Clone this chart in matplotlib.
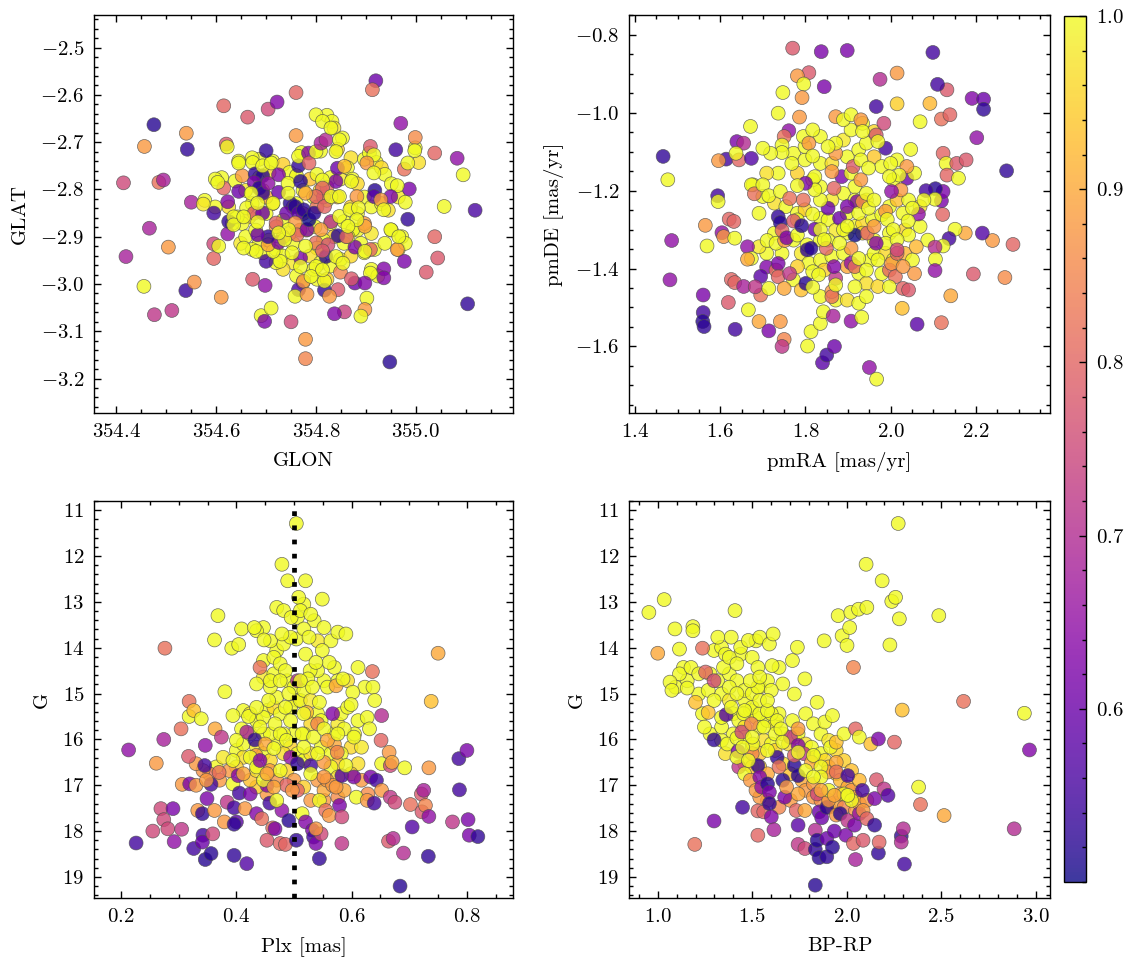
import matplotlib
matplotlib.use("Agg")
import matplotlib.pyplot as plt
from matplotlib.ticker import AutoMinorLocator

# style: serif CM font, inward ticks on all sides
plt.rcParams['font.family'] = 'serif'
plt.rcParams['font.serif'] = ['cmr10']
plt.rcParams['mathtext.fontset'] = 'cm'
plt.rcParams['axes.formatter.use_mathtext'] = True
plt.rcParams['font.size'] = 7.5
plt.rcParams['axes.linewidth'] = 0.5

# ---- sky positions ----
glon = [354.475, 354.414, 354.456, 354.540, 354.542, 354.485, 354.494, 354.550, 354.466, 354.419,
        354.504, 354.455, 354.476, 354.511, 354.539, 354.556, 354.610, 354.574, 354.595, 354.595,
        354.595, 354.615, 354.663, 354.704, 354.722, 354.760, 354.920, 354.913, 354.760, 354.620,
        354.673, 354.698, 354.700, 354.690, 354.697, 354.710, 354.750, 354.779, 354.779, 354.948,
        355.104, 355.119, 355.083, 355.095, 355.057, 355.038, 354.999, 354.998, 354.970, 354.960,
        355.038, 355.044, 355.021, 354.977, 354.984, 354.987, 354.977, 354.984, 354.963, 354.950,
        354.936, 354.936, 354.963, 354.950, 354.966, 354.909, 354.916, 354.902, 354.916, 354.918,
        354.916, 354.882, 354.930, 354.936, 354.909, 354.909, 354.878, 354.898, 354.902, 354.898,
        354.890, 354.857, 354.837, 354.844, 354.849, 354.871, 354.817, 354.827, 354.817, 354.765,
        354.758, 354.775, 354.782, 354.878, 354.898, 354.874, 354.898, 354.864, 354.844, 354.861,
        354.820, 354.840, 354.854, 354.800, 354.790, 354.813, 354.769, 354.769, 354.752, 354.728,
        354.714, 354.680, 354.655, 354.704, 354.725, 354.704, 354.683, 354.623, 354.605, 354.625,
        354.635, 354.635, 354.623, 354.615, 354.603, 354.645, 354.652, 354.645, 354.622, 354.661,
        354.676, 354.693, 354.683, 354.673, 354.678, 354.693, 354.676, 354.686, 354.693, 354.704,
        354.693, 354.710, 354.700, 354.725, 354.725, 354.714, 354.720, 354.744, 354.748, 354.741,
        354.758, 354.765, 354.775, 354.758, 354.762, 354.782, 354.786, 354.796, 354.765, 354.769,
        354.765, 354.785, 354.786, 354.800, 354.810, 354.820, 354.800, 354.813, 354.830, 354.847,
        354.840, 354.843, 354.857, 354.840, 354.871, 354.813, 354.813, 354.800, 354.817, 354.830,
        354.810, 354.847, 354.868, 354.885, 354.882, 354.864, 354.800, 354.824, 354.813, 354.779,
        354.737, 354.745, 354.725, 354.670, 354.655, 354.683, 354.744, 354.779, 354.830, 354.847]
glat = [-2.663, -2.786, -2.709, -2.681, -2.715, -2.785, -2.780, -2.827, -2.882, -2.942,
        -2.922, -3.005, -3.065, -3.056, -3.014, -2.996, -3.028, -2.831, -2.850, -2.915,
        -2.946, -2.623, -2.647, -2.630, -2.615, -2.595, -2.570, -2.589, -2.686, -2.704,
        -2.990, -3.003, -2.952, -3.067, -3.079, -3.051, -3.080, -3.117, -3.158, -3.165,
        -3.042, -2.844, -2.734, -2.769, -2.836, -2.723, -2.690, -2.718, -2.660, -2.716,
        -2.900, -2.945, -2.975, -2.952, -2.863, -2.799, -2.757, -2.744, -2.792, -2.815,
        -2.968, -2.987, -2.927, -2.885, -2.900, -2.709, -2.727, -2.744, -2.765, -2.802,
        -2.815, -2.815, -2.822, -2.843, -2.927, -2.977, -2.998, -2.998, -3.030, -3.054,
        -3.068, -3.059, -3.063, -3.012, -2.975, -2.989, -3.013, -3.026, -2.994, -3.012,
        -3.026, -2.994, -3.022, -2.922, -2.931, -2.885, -2.878, -2.900, -2.898, -2.900,
        -2.942, -2.942, -2.956, -2.963, -2.984, -2.970, -2.945, -2.963, -2.934, -2.952,
        -2.931, -2.931, -2.924, -2.917, -2.912, -2.900, -2.896, -2.894, -2.920, -2.868,
        -2.858, -2.875, -2.826, -2.797, -2.785, -2.804, -2.771, -2.744, -2.710, -2.839,
        -2.850, -2.850, -2.869, -2.743, -2.767, -2.771, -2.785, -2.797, -2.808, -2.787,
        -2.750, -2.744, -2.718, -2.769, -2.806, -2.829, -2.871, -2.787, -2.829, -2.850,
        -2.836, -2.850, -2.843, -2.871, -2.896, -2.885, -2.864, -2.850, -2.750, -2.783,
        -2.730, -2.723, -2.744, -2.720, -2.702, -2.695, -2.642, -2.656, -2.670, -2.695,
        -2.720, -2.755, -2.751, -2.783, -2.783, -2.780, -2.797, -2.815, -2.836, -2.868,
        -2.885, -2.857, -2.843, -2.839, -2.864, -2.878, -2.913, -2.917, -2.930, -2.920,
        -2.906, -2.885, -2.892, -2.808, -2.858, -2.829, -2.808, -2.808, -2.815, -2.815]
p_sky = [0.52, 0.75, 0.88, 0.88, 0.53, 0.82, 0.68, 0.68, 0.68, 0.68,
         0.88, 1.00, 0.72, 0.72, 0.54, 0.87, 0.88, 0.98, 0.55, 0.75,
         0.80, 0.80, 0.78, 0.75, 0.63, 0.80, 0.60, 0.82, 0.88, 0.78,
         0.78, 0.65, 0.55, 1.00, 0.62, 1.00, 0.75, 0.88, 0.85, 0.52,
         0.53, 0.56, 0.65, 1.00, 1.00, 0.80, 0.86, 1.00, 0.65, 0.55,
         0.80, 0.78, 0.78, 0.62, 0.53, 0.62, 0.82, 1.00, 1.00, 0.62,
         0.63, 0.63, 0.88, 1.00, 1.00, 0.78, 1.00, 0.88, 1.00, 0.52,
         0.58, 0.88, 0.88, 1.00, 0.80, 1.00, 0.60, 0.63, 1.00, 0.88,
         1.00, 0.74, 0.63, 0.78, 0.85, 0.78, 0.53, 0.88, 1.00, 0.56,
         1.00, 0.87, 0.88, 0.62, 1.00, 1.00, 0.90, 1.00, 0.52, 0.80,
         0.52, 1.00, 1.00, 1.00, 1.00, 1.00, 0.62, 1.00, 1.00, 1.00,
         1.00, 1.00, 1.00, 0.90, 0.62, 0.53, 0.60, 0.65, 1.00, 0.53,
         1.00, 1.00, 0.63, 0.80, 1.00, 0.60, 0.88, 1.00, 1.00, 1.00,
         0.78, 0.60, 1.00, 1.00, 0.53, 0.52, 0.62, 0.52, 0.53, 0.65,
         1.00, 1.00, 0.53, 0.63, 0.60, 1.00, 0.80, 1.00, 0.52, 0.60,
         0.52, 0.58, 0.52, 0.88, 0.82, 0.62, 0.50, 0.52, 0.53, 0.52,
         1.00, 0.63, 0.80, 1.00, 0.68, 0.70, 1.00, 1.00, 1.00, 1.00,
         1.00, 0.60, 0.93, 0.62, 1.00, 1.00, 0.80, 0.80, 0.80, 0.70,
         0.88, 1.00, 1.00, 1.00, 1.00, 1.00, 0.82, 0.76, 0.78, 1.00,
         1.00, 1.00, 1.00, 1.00, 1.00, 1.00, 1.00, 0.90, 1.00, 1.00]
# crowded cluster core (drawn underneath)
glon_core = [354.822, 354.832, 354.836, 354.853, 354.843, 354.771, 354.809, 354.870, 354.897, 354.907,
             354.921, 354.931, 354.938, 354.951, 354.965, 354.979, 354.999, 355.006, 354.686, 354.713,
             354.734, 354.747, 354.761, 354.788, 354.802, 354.829, 354.849, 354.863, 354.873, 354.883,
             354.897, 354.911, 354.931, 354.945, 354.883, 354.870, 354.856, 354.822, 354.843, 354.829,
             354.883, 354.911, 354.890, 354.856, 354.836, 354.815, 354.802, 354.788, 354.809, 354.829,
             354.849, 354.870, 354.897, 354.917, 354.611, 354.638, 354.659, 354.672, 354.666, 354.652,
             354.632, 354.642, 354.625, 354.598, 354.577, 354.598, 354.686, 354.706, 354.720, 354.734,
             354.754, 354.754, 354.734, 354.747, 354.781, 354.798, 354.693, 354.713, 354.700, 354.761,
             354.774, 354.795, 354.808, 354.938, 354.951, 354.972, 354.965, 354.979, 354.911, 354.924,
             354.802, 354.822, 354.761, 354.774, 354.795, 354.734, 354.720, 354.693, 354.672, 354.649,
             354.659, 354.679, 354.686, 354.706, 354.645, 354.672,
             354.754, 354.774, 354.802, 354.815, 354.734, 354.768, 354.822, 354.897, 354.700, 354.720]
glat_core = [-2.643, -2.656, -2.670, -2.691, -2.715, -2.722, -2.719, -2.733, -2.736, -2.723,
             -2.743, -2.754, -2.768, -2.788, -2.816, -2.827, -2.712, -2.743, -2.736, -2.740,
             -2.747, -2.764, -2.771, -2.778, -2.768, -2.775, -2.778, -2.754, -2.778, -2.788,
             -2.816, -2.837, -2.830, -2.844, -2.851, -2.837, -2.868, -2.823, -2.816, -2.872,
             -2.886, -2.893, -2.914, -2.914, -2.900, -2.907, -2.924, -2.941, -2.955, -2.962,
             -2.948, -2.941, -2.934, -2.927, -2.775, -2.782, -2.802, -2.830, -2.858, -2.872,
             -2.872, -2.858, -2.837, -2.778, -2.823, -2.837, -2.914, -2.907, -2.927, -2.941,
             -2.955, -2.914, -2.865, -2.893, -2.886, -2.879, -2.802, -2.830, -2.851, -2.830,
             -2.802, -2.816, -2.802, -2.914, -2.886, -2.900, -2.927, -2.914, -2.969, -2.983,
             -2.990, -2.990, -2.983, -2.997, -2.969, -2.969, -2.955, -2.934, -2.927, -2.914,
             -2.900, -2.886, -2.775, -2.764, -2.740, -2.733,
             -2.837, -2.851, -2.837, -2.816, -2.900, -2.886, -2.795, -2.872, -2.816, -2.879]
p_sky_core = [1.00, 1.00, 0.98, 1.00, 0.95, 1.00, 1.00, 0.97, 1.00, 1.00,
              1.00, 0.96, 1.00, 1.00, 0.98, 1.00, 1.00, 0.97, 1.00, 1.00,
              0.95, 1.00, 1.00, 0.93, 1.00, 1.00, 0.98, 1.00, 1.00, 0.96,
              1.00, 1.00, 1.00, 0.97, 1.00, 0.95, 1.00, 1.00, 0.92, 1.00,
              1.00, 0.98, 1.00, 1.00, 0.95, 1.00, 1.00, 0.97, 1.00, 1.00,
              1.00, 0.96, 1.00, 1.00, 1.00, 1.00, 0.98, 1.00, 0.95, 1.00,
              1.00, 1.00, 0.97, 1.00, 1.00, 1.00, 1.00, 0.94, 1.00, 1.00,
              0.98, 1.00, 1.00, 0.93, 1.00, 1.00, 1.00, 0.97, 1.00, 1.00,
              1.00, 1.00, 0.96, 1.00, 1.00, 1.00, 0.98, 1.00, 1.00, 1.00,
              1.00, 0.95, 1.00, 1.00, 1.00, 0.97, 1.00, 1.00, 1.00, 0.98,
              1.00, 1.00, 1.00, 0.96, 1.00, 1.00,
              0.85, 0.80, 0.83, 0.78, 0.85, 0.82, 0.80, 0.88, 0.90, 0.88]

# ---- proper motions ----
pmra = [1.466, 1.477, 1.486, 1.482, 1.560, 1.560, 1.559, 1.562, 1.635, 1.619,
        1.626, 1.634, 1.655, 1.666, 1.691, 1.714, 1.750, 1.745, 1.741, 1.805,
        1.813, 1.835, 1.842, 1.840, 1.850, 1.868, 1.865, 1.907, 1.932, 1.950,
        1.967, 2.027, 2.062, 2.119, 2.141, 2.194, 2.268, 2.287, 2.239, 2.175,
        2.151, 2.215, 2.137, 2.123, 2.104, 2.105, 2.104, 2.122, 2.119, 2.123,
        2.105, 2.083, 2.104, 2.078, 2.065, 2.051, 2.041, 2.042, 2.038, 2.056,
        2.038, 2.020, 2.000, 2.024, 2.002, 1.997, 2.123, 2.130, 2.132, 2.159,
        2.155, 2.177, 2.202, 2.272, 2.191, 2.218, 2.218, 2.132, 2.110, 2.099,
        2.092, 2.119, 2.139, 2.069, 2.047, 2.015, 2.015, 1.975, 1.966, 1.984,
        1.966, 1.988, 1.970, 1.898, 1.837, 1.844, 1.770, 1.808, 1.781, 1.796,
        1.792, 1.747, 1.786, 1.736, 1.671, 1.761, 1.750, 1.745, 1.795, 1.808,
        1.817, 1.817, 1.822, 1.768, 1.745, 1.718, 1.700, 1.639, 1.655, 1.614,
        1.644, 1.596, 1.637, 1.673, 1.594, 1.595, 1.565, 1.569, 1.604, 1.608,
        1.621, 1.632, 1.634, 1.673, 1.680, 1.700, 1.714, 1.741, 1.763, 1.664,
        1.673, 1.664, 1.710, 1.731, 1.751, 1.709, 1.695, 1.695, 1.682, 1.714,
        1.731, 1.736, 1.736, 1.750, 1.763, 1.736, 1.741, 1.745, 1.772, 1.756,
        1.781, 1.791, 1.804, 1.804, 1.813, 1.822, 1.801, 1.817, 1.831, 1.817,
        1.849, 1.862, 1.862, 1.871, 1.867, 1.871, 1.853, 1.880, 1.867, 1.885,
        1.862, 1.871, 1.871, 1.889, 1.907, 1.930, 1.934, 1.871, 1.853, 1.907,
        1.912, 1.930, 1.930, 1.948, 1.921, 1.898, 1.925, 1.934, 1.948, 1.916,
        1.945, 1.907, 1.907, 1.916, 1.916, 1.925, 1.943, 1.970, 1.979, 1.997,
        2.002, 2.015, 2.011, 1.997, 2.029, 2.042, 2.056, 2.029, 1.961, 1.966,
        1.988, 1.992, 2.006, 2.015, 2.015, 1.817, 1.835, 1.822, 1.800, 1.795,
        1.781, 1.889, 1.880, 1.898, 1.835, 1.844, 1.943, 1.961]
pmde = [-1.112, -1.172, -1.328, -1.429, -1.468, -1.513, -1.536, -1.549, -1.556, -1.487,
        -1.428, -1.436, -1.446, -1.506, -1.536, -1.560, -1.582, -1.600, -1.536, -1.599,
        -1.562, -1.541, -1.511, -1.642, -1.622, -1.600, -1.522, -1.535, -1.525, -1.654,
        -1.684, -1.502, -1.543, -1.539, -1.470, -1.414, -1.423, -1.338, -1.328, -1.309,
        -1.299, -1.309, -1.323, -1.342, -1.345, -1.376, -1.405, -1.261, -1.226, -1.202,
        -1.195, -1.200, -1.222, -1.224, -1.260, -1.245, -1.278, -1.314, -1.168, -1.155,
        -1.138, -1.160, -1.130, -1.198, -1.202, -1.164, -1.104, -1.130, -1.160, -1.168,
        -1.130, -1.121, -1.064, -1.149, -0.963, -0.965, -0.991, -0.941, -0.927, -0.845,
        -0.976, -1.016, -1.005, -1.023, -1.094, -0.977, -0.898, -0.914, -0.984, -1.027,
        -1.057, -1.091, -1.074, -0.840, -0.843, -0.933, -0.834, -0.897, -0.905, -0.926,
        -0.961, -0.948, -1.011, -1.001, -1.035, -1.046, -1.061, -1.083, -1.061, -1.078,
        -1.044, -1.111, -1.164, -1.130, -1.102, -1.104, -1.091, -1.074, -1.078, -1.119,
        -1.121, -1.123, -1.104, -1.117, -1.213, -1.228, -1.289, -1.342, -1.308, -1.318,
        -1.273, -1.279, -1.322, -1.185, -1.208, -1.185, -1.213, -1.202, -1.220, -1.344,
        -1.374, -1.376, -1.328, -1.335, -1.328, -1.396, -1.420, -1.468, -1.447, -1.451,
        -1.404, -1.387, -1.421, -1.451, -1.413, -1.267, -1.282, -1.302, -1.278, -1.321,
        -1.314, -1.290, -1.339, -1.352, -1.348, -1.299, -1.438, -1.408, -1.416, -1.448,
        -1.348, -1.459, -1.472, -1.425, -1.395, -1.442, -1.245, -1.271, -1.194, -1.164,
        -1.151, -1.104, -1.010, -1.018, -1.005, -1.018, -1.048, -1.078, -1.087, -1.155,
        -1.138, -1.172, -1.121, -1.142, -1.228, -1.241, -1.258, -1.228, -1.245, -1.314,
        -1.309, -1.348, -1.386, -1.395, -1.447, -1.374, -1.404, -1.378, -1.413, -1.404,
        -1.387, -1.361, -1.421, -1.447, -1.451, -1.455, -1.413, -1.395, -1.292, -1.335,
        -1.253, -1.274, -1.300, -1.326, -1.352, -1.260, -1.224, -1.198, -1.181, -1.224,
        -1.187, -1.300, -1.335, -1.291, -1.300, -1.326, -1.207, -1.224]
p_pm = [0.53, 1.00, 0.65, 0.65, 0.62, 0.55, 0.52, 0.53, 0.55, 0.78,
        0.80, 0.80, 0.68, 1.00, 0.90, 0.62, 0.85, 0.72, 0.88, 1.00,
        1.00, 1.00, 1.00, 0.58, 0.55, 0.60, 0.68, 0.65, 1.00, 0.65,
        1.00, 0.93, 0.58, 0.82, 0.90, 0.78, 0.86, 0.80, 0.88, 0.90,
        1.00, 0.57, 0.55, 1.00, 0.70, 1.00, 0.65, 0.80, 0.62, 0.62,
        0.52, 0.55, 1.00, 1.00, 0.65, 1.00, 1.00, 1.00, 0.60, 1.00,
        0.88, 1.00, 1.00, 0.88, 0.65, 1.00, 0.80, 1.00, 0.80, 1.00,
        0.78, 0.78, 0.65, 0.53, 0.63, 0.60, 0.53, 0.78, 0.55, 0.55,
        0.92, 0.82, 0.80, 1.00, 1.00, 0.95, 0.88, 0.70, 0.55, 0.75,
        0.78, 0.55, 1.00, 0.62, 0.62, 0.62, 0.78, 0.78, 0.88, 1.00,
        0.88, 1.00, 0.88, 1.00, 1.00, 0.65, 0.82, 1.00, 1.00, 0.88,
        1.00, 1.00, 1.00, 1.00, 1.00, 1.00, 1.00, 0.62, 0.70, 0.55,
        0.80, 0.88, 1.00, 0.57, 0.55, 1.00, 0.88, 1.00, 0.65, 0.88,
        0.80, 0.80, 1.00, 1.00, 0.82, 1.00, 1.00, 1.00, 0.82, 0.65,
        1.00, 0.90, 1.00, 1.00, 0.88, 0.63, 0.58, 0.82, 0.72, 1.00,
        0.82, 0.62, 0.80, 0.90, 0.72, 0.53, 0.52, 0.80, 0.78, 0.62,
        1.00, 0.52, 1.00, 0.53, 0.52, 0.60, 0.52, 1.00, 1.00, 1.00,
        0.80, 0.88, 0.82, 0.72, 0.63, 1.00, 0.60, 0.60, 0.80, 0.62,
        0.88, 0.88, 0.88, 1.00, 1.00, 0.88, 1.00, 1.00, 1.00, 1.00,
        0.78, 0.88, 1.00, 1.00, 0.62, 0.62, 1.00, 0.88, 1.00, 0.50,
        0.80, 0.88, 0.65, 0.82, 1.00, 1.00, 1.00, 1.00, 1.00, 0.80,
        0.88, 0.80, 0.82, 1.00, 0.80, 0.78, 0.88, 0.88, 0.88, 0.63,
        0.88, 1.00, 1.00, 1.00, 0.75, 1.00, 1.00, 1.00, 0.62, 0.82,
        1.00, 1.00, 1.00, 1.00, 1.00, 1.00, 1.00, 1.00]
pmra_core = [1.677, 1.700, 1.727, 1.754, 1.781, 1.799, 1.835, 1.853, 1.871, 1.898,
             1.916, 1.934, 1.957, 1.979, 1.997, 2.015, 2.029, 2.042, 2.069, 1.781,
             1.772, 1.790, 1.808, 1.835, 1.844, 1.862, 1.889, 1.898, 1.925, 1.943,
             1.952, 1.961, 1.988, 2.006, 2.033, 2.051, 1.709, 1.691, 1.727, 1.745,
             1.781, 1.772, 1.790, 1.835, 1.871, 1.898, 1.925, 1.943, 1.970, 1.916,
             1.889, 1.862, 1.835, 1.817, 1.781, 1.772, 1.799, 1.835, 1.862, 1.898,
             1.925, 1.943, 1.961, 1.979, 2.006, 2.015, 1.889, 1.907, 1.934, 1.961,
             1.835, 1.799, 1.736, 1.709, 1.691, 1.997, 2.033, 2.069, 2.087, 2.060,
             1.835, 1.916, 1.943, 1.898, 1.853, 1.934, 1.961, 1.988]
pmde_core = [-1.185, -1.215, -1.232, -1.241, -1.258, -1.249, -1.271, -1.275, -1.301, -1.309,
             -1.292, -1.284, -1.275, -1.262, -1.241, -1.224, -1.258, -1.224, -1.241, -1.275,
             -1.327, -1.361, -1.386, -1.378, -1.404, -1.369, -1.361, -1.395, -1.412, -1.438,
             -1.378, -1.361, -1.361, -1.378, -1.361, -1.378, -1.361, -1.344, -1.309, -1.361,
             -1.395, -1.429, -1.455, -1.472, -1.481, -1.481, -1.489, -1.472, -1.446, -1.190,
             -1.207, -1.224, -1.190, -1.172, -1.155, -1.104, -1.121, -1.130, -1.130, -1.113,
             -1.095, -1.078, -1.113, -1.138, -1.172, -1.121, -1.070, -1.044, -1.027, -1.048,
             -1.061, -1.087, -1.155, -1.155, -1.258, -1.309, -1.301, -1.292, -1.327, -1.344,
             -1.327, -1.224, -1.224, -1.258, -1.327, -1.309, -1.327, -1.335]
p_pm_core = [1.00, 1.00, 0.97, 1.00, 1.00, 0.95, 1.00, 1.00, 0.98, 1.00,
             1.00, 0.96, 1.00, 1.00, 1.00, 0.93, 1.00, 1.00, 0.97, 1.00,
             1.00, 0.98, 1.00, 1.00, 0.95, 1.00, 1.00, 0.90, 1.00, 0.97,
             1.00, 1.00, 0.96, 1.00, 0.92, 1.00, 1.00, 0.98, 1.00, 1.00,
             0.95, 1.00, 0.93, 1.00, 1.00, 0.97, 1.00, 1.00, 0.96, 1.00,
             1.00, 0.98, 1.00, 1.00, 0.95, 1.00, 1.00, 1.00, 0.97, 1.00,
             1.00, 1.00, 0.94, 1.00, 1.00, 1.00, 0.98, 1.00, 1.00, 0.96,
             1.00, 1.00, 1.00, 0.97, 1.00, 1.00, 0.95, 1.00, 1.00, 0.92,
             1.00, 1.00, 0.98, 1.00, 1.00, 0.96, 1.00, 1.00]

# ---- parallax vs G ----
plx = [0.213, 0.226, 0.261, 0.255, 0.269, 0.274, 0.281, 0.276, 0.274, 0.290,
       0.292, 0.304, 0.305, 0.306, 0.318, 0.317, 0.319, 0.318, 0.326, 0.339,
       0.326, 0.330, 0.333, 0.341, 0.342, 0.341, 0.345, 0.346, 0.349, 0.346,
       0.356, 0.356, 0.359, 0.348, 0.362, 0.362, 0.368, 0.363, 0.370, 0.374,
       0.379, 0.380, 0.384, 0.392, 0.404, 0.400, 0.396, 0.396, 0.396, 0.394,
       0.394, 0.394, 0.403, 0.405, 0.409, 0.409, 0.412, 0.415, 0.418, 0.418,
       0.424, 0.421, 0.431, 0.432, 0.435, 0.434, 0.441, 0.448, 0.447, 0.450,
       0.444, 0.453, 0.458, 0.458, 0.459, 0.456, 0.453, 0.463, 0.467, 0.470,
       0.479, 0.482, 0.479, 0.476, 0.485, 0.487, 0.491, 0.489, 0.494, 0.495,
       0.504, 0.504, 0.506, 0.506, 0.504, 0.506, 0.508, 0.511, 0.517, 0.514,
       0.520, 0.522, 0.526, 0.529, 0.529, 0.528, 0.524, 0.532, 0.534, 0.538,
       0.544, 0.547, 0.538, 0.541, 0.549, 0.552, 0.549, 0.544, 0.552, 0.555,
       0.561, 0.567, 0.558, 0.561, 0.557, 0.567, 0.573, 0.570, 0.575, 0.576,
       0.579, 0.583, 0.583, 0.583, 0.573, 0.590, 0.587, 0.590, 0.602, 0.599,
       0.604, 0.604, 0.608, 0.627, 0.627, 0.631, 0.633, 0.636, 0.637, 0.640,
       0.643, 0.639, 0.652, 0.652, 0.651, 0.652, 0.667, 0.665, 0.670, 0.667,
       0.675, 0.664, 0.672, 0.690, 0.684, 0.692, 0.702, 0.705, 0.721, 0.725,
       0.722, 0.728, 0.734, 0.733, 0.734, 0.738, 0.750, 0.775, 0.786, 0.787,
       0.800, 0.802, 0.804, 0.819, 0.585, 0.465, 0.476, 0.485, 0.476, 0.491,
       0.485, 0.494, 0.467, 0.476, 0.487, 0.465, 0.476, 0.435, 0.441, 0.424,
       0.435, 0.447, 0.465, 0.470, 0.517, 0.514, 0.517, 0.534, 0.541, 0.529,
       0.520, 0.538, 0.532, 0.544, 0.552, 0.558, 0.576, 0.511, 0.494, 0.479,
       0.497, 0.552, 0.441, 0.453, 0.400, 0.435]
g_plx = [16.23, 18.26, 16.52, 18.00, 17.51, 17.75, 17.95, 14.01, 16.00, 17.51,
         18.23, 15.77, 17.96, 16.98, 15.17, 16.37, 16.97, 15.50, 15.37, 15.55,
         18.38, 17.00, 17.55, 17.62, 18.09, 18.24, 16.57, 16.13, 17.29, 18.62,
         18.49, 16.98, 18.06, 16.89, 17.55, 13.83, 13.30, 15.77, 16.72, 15.95,
         17.80, 14.96, 17.37, 14.01, 13.93, 17.80, 17.85, 17.49, 18.53, 15.48,
         16.46, 16.97, 16.79, 17.17, 15.77, 13.59, 16.75, 17.51, 18.71, 15.84,
         17.19, 15.50, 13.56, 16.01, 17.62, 16.35, 14.43, 13.83, 15.52, 16.10,
         17.73, 17.00, 17.39, 16.68, 14.72, 15.15, 18.20, 17.93, 17.95, 13.12,
         12.18, 13.19, 17.55, 18.27, 18.29, 17.00, 17.77, 12.54, 16.39, 13.34,
         11.29, 13.81, 14.72, 16.53, 18.20, 17.11, 12.90, 13.19, 13.59, 17.62,
         17.80, 15.41, 13.77, 13.27, 16.57, 14.50, 14.68, 17.98, 18.13, 18.27,
         18.60, 18.06, 17.95, 15.66, 12.94, 13.56, 14.06, 17.33, 16.50, 17.55,
         17.66, 15.44, 14.86, 14.32, 16.89, 17.00, 17.04, 16.10, 16.28, 13.66,
         17.44, 17.69, 18.27, 16.79, 14.83, 13.70, 15.77, 16.57, 14.97, 15.24,
         15.95, 16.82, 17.26, 17.33, 15.52, 15.77, 16.82, 14.52, 14.86, 15.15,
         16.89, 17.39, 17.11, 15.48, 16.02, 16.53, 16.57, 16.28, 16.50, 17.26,
         17.37, 18.22, 18.16, 18.48, 19.20, 16.62, 17.42, 17.91, 17.19, 17.11,
         17.58, 17.44, 17.68, 18.55, 16.62, 15.17, 14.12, 17.80, 16.42, 17.10,
         16.24, 17.75, 18.09, 18.12, 14.68, 14.21, 14.35, 14.50, 14.72, 15.00,
         15.30, 15.59, 15.66, 15.88, 16.02, 16.20, 16.68, 15.30, 15.73, 16.39,
         16.60, 16.89, 17.04, 17.33, 15.44, 15.88, 16.17, 15.95, 16.31, 16.75,
         14.14, 14.32, 14.86, 15.19, 15.77, 16.02, 15.88, 14.72, 13.77, 13.70,
         17.11, 16.82, 16.46, 16.75, 16.02, 14.79]
p_plx = [0.65, 0.55, 0.88, 0.75, 0.75, 0.75, 0.75, 0.82, 0.68, 0.62,
         0.65, 0.82, 0.72, 0.88, 0.82, 0.78, 0.62, 1.00, 0.93, 1.00,
         0.55, 0.88, 0.88, 0.53, 0.55, 0.60, 0.55, 0.65, 0.62, 0.52,
         0.52, 0.55, 0.75, 0.88, 0.88, 1.00, 1.00, 0.90, 0.82, 0.72,
         0.88, 1.00, 0.72, 1.00, 1.00, 0.58, 0.53, 0.55, 0.53, 1.00,
         1.00, 1.00, 0.63, 0.55, 1.00, 1.00, 0.90, 0.88, 0.57, 0.68,
         0.62, 1.00, 1.00, 0.53, 0.63, 0.88, 0.82, 1.00, 1.00, 0.90,
         0.82, 0.63, 0.55, 0.88, 1.00, 1.00, 0.78, 0.82, 0.62, 1.00,
         1.00, 1.00, 0.65, 0.80, 0.80, 0.80, 0.52, 1.00, 0.65, 1.00,
         1.00, 1.00, 0.70, 0.53, 0.53, 0.80, 1.00, 1.00, 1.00, 1.00,
         0.63, 0.92, 1.00, 1.00, 0.55, 1.00, 1.00, 0.62, 0.55, 0.62,
         0.53, 0.75, 0.88, 0.85, 1.00, 1.00, 1.00, 1.00, 0.88, 0.82,
         0.88, 0.63, 1.00, 1.00, 0.88, 0.88, 0.88, 0.90, 0.85, 1.00,
         0.62, 0.75, 0.72, 0.57, 0.90, 1.00, 1.00, 1.00, 1.00, 1.00,
         1.00, 0.62, 1.00, 0.88, 1.00, 1.00, 0.62, 0.82, 1.00, 1.00,
         0.55, 0.55, 0.88, 0.70, 0.80, 1.00, 0.75, 0.88, 0.90, 0.72,
         0.75, 0.78, 0.70, 0.70, 0.52, 1.00, 0.82, 0.57, 0.78, 0.68,
         0.78, 0.85, 0.65, 0.53, 0.88, 0.93, 0.90, 0.72, 0.55, 0.55,
         0.62, 0.62, 0.62, 0.53, 1.00, 1.00, 1.00, 1.00, 1.00, 1.00,
         1.00, 1.00, 1.00, 1.00, 1.00, 1.00, 1.00, 1.00, 1.00, 1.00,
         1.00, 1.00, 0.90, 1.00, 1.00, 1.00, 1.00, 1.00, 1.00, 1.00,
         1.00, 1.00, 1.00, 1.00, 1.00, 0.90, 1.00, 1.00, 1.00, 1.00,
         0.88, 0.88, 0.63, 0.90, 1.00, 1.00]
plx_core = [0.412, 0.424, 0.435, 0.453, 0.465, 0.476, 0.470, 0.459, 0.447, 0.465,
            0.488, 0.500, 0.506, 0.494, 0.511, 0.517, 0.529, 0.541, 0.547, 0.529,
            0.517, 0.500, 0.494, 0.506, 0.517, 0.529, 0.547, 0.564, 0.570, 0.576,
            0.582, 0.593, 0.611, 0.599, 0.582, 0.576, 0.564, 0.611, 0.599, 0.552,
            0.576, 0.587, 0.400, 0.412, 0.400, 0.388, 0.412, 0.424, 0.435, 0.447,
            0.459, 0.470, 0.482, 0.447, 0.459, 0.482, 0.488, 0.500, 0.470, 0.453,
            0.435, 0.424, 0.435, 0.365, 0.377, 0.371, 0.353, 0.342, 0.330, 0.541,
            0.517, 0.529, 0.552, 0.576, 0.617, 0.628, 0.447, 0.470, 0.482, 0.459,
            0.447, 0.435, 0.506, 0.517, 0.520, 0.535, 0.541, 0.564, 0.570, 0.576,
            0.552, 0.541, 0.593, 0.611, 0.623, 0.605, 0.617]
g_plx_core = [15.37, 15.44, 15.59, 15.37, 15.30, 15.44, 15.08, 14.86, 14.64, 14.57,
              14.72, 14.86, 15.15, 15.30, 15.15, 14.93, 15.15, 15.44, 15.59, 15.66,
              15.88, 15.88, 16.17, 16.31, 16.46, 16.31, 16.17, 16.31, 15.88, 15.66,
              15.44, 15.30, 15.59, 16.17, 16.31, 16.53, 16.60, 16.53, 16.75, 17.33,
              17.26, 17.11, 16.24, 16.39, 16.60, 16.68, 16.10, 15.88, 16.17, 16.31,
              16.46, 16.10, 15.88, 15.88, 15.88, 16.31, 16.68, 16.89, 16.89, 17.19,
              17.04, 16.89, 16.68, 16.60, 16.39, 16.89, 16.75, 16.68, 16.53, 16.89,
              17.04, 17.33, 17.11, 16.82, 16.89, 17.19, 14.28, 14.06, 13.92, 13.85,
              13.56, 13.63, 13.34, 13.05, 12.54, 13.41, 13.85, 13.85, 14.43, 14.72,
              14.72, 14.50, 14.72, 14.43, 14.86, 15.88, 16.17]
p_plx_core = [1.00, 0.98, 1.00, 1.00, 0.96, 1.00, 1.00, 1.00, 0.98, 1.00,
              1.00, 1.00, 0.97, 1.00, 1.00, 1.00, 0.98, 1.00, 1.00, 0.96,
              1.00, 1.00, 0.95, 1.00, 1.00, 0.97, 1.00, 1.00, 1.00, 0.98,
              1.00, 1.00, 1.00, 0.96, 1.00, 0.93, 1.00, 0.97, 0.95, 0.88,
              0.86, 0.90, 1.00, 0.97, 0.95, 0.88, 1.00, 1.00, 0.98, 1.00,
              0.96, 1.00, 1.00, 1.00, 1.00, 0.97, 0.95, 0.88, 0.87, 0.88,
              0.95, 0.93, 0.97, 1.00, 0.98, 0.88, 0.82, 0.87, 0.88, 0.88,
              0.95, 0.88, 0.90, 0.97, 0.88, 0.86, 1.00, 1.00, 1.00, 1.00,
              1.00, 1.00, 1.00, 1.00, 1.00, 1.00, 0.98, 1.00, 1.00, 1.00,
              1.00, 1.00, 0.97, 1.00, 1.00, 1.00, 0.98]

# ---- colour-magnitude diagram ----
bp_rp = [0.953, 1.034, 1.000, 1.091, 1.115, 1.065, 1.075, 1.156, 1.176, 1.186,
         1.186, 1.200, 1.196, 1.237, 1.217, 1.253, 1.267, 1.267, 1.247, 1.298,
         1.298, 1.318, 1.298, 1.298, 1.338, 1.348, 1.338, 1.358, 1.362, 1.368,
         1.379, 1.379, 1.409, 1.419, 1.419, 1.425, 1.429, 1.445, 1.449, 1.439,
         1.460, 1.455, 1.460, 1.480, 1.490, 1.496, 1.500, 1.500, 1.504, 1.520,
         1.530, 1.530, 1.530, 1.540, 1.530, 1.530, 1.540, 1.550, 1.561, 1.581,
         1.591, 1.591, 1.601, 1.615, 1.591, 1.601, 1.605, 1.601, 1.611, 1.621,
         1.632, 1.642, 1.662, 1.672, 1.682, 1.702, 1.713, 1.713, 1.723, 1.733,
         1.743, 1.723, 1.739, 1.743, 1.743, 1.743, 1.743, 1.773, 1.779, 1.779,
         1.779, 1.814, 1.824, 1.834, 1.834, 1.844, 1.844, 1.834, 1.844, 1.854,
         1.854, 1.868, 1.885, 1.881, 1.895, 1.895, 1.895, 1.901, 1.905, 1.915,
         1.925, 1.925, 1.935, 1.945, 1.955, 1.945, 1.945, 1.945, 1.966, 1.966,
         1.976, 1.986, 1.986, 1.996, 2.002, 2.006, 2.006, 2.016, 2.022, 2.026,
         2.036, 2.036, 2.042, 2.047, 2.047, 2.063, 2.067, 2.067, 2.083, 2.087,
         2.087, 2.103, 2.107, 2.107, 2.128, 2.148, 2.148, 2.158, 2.168, 2.168,
         2.172, 2.188, 2.198, 2.219, 2.229, 2.239, 2.259, 2.253, 2.273, 2.279,
         2.289, 2.289, 2.294, 2.300, 2.306, 2.381, 2.391, 2.488, 2.516, 2.619,
         2.887, 2.941, 2.968, 1.460, 1.540, 1.581, 1.632, 1.652, 1.561, 1.500,
         1.662, 1.743, 1.824, 1.864, 1.864, 1.783, 1.419, 1.449, 1.480, 1.581,
         1.419, 1.389, 1.490, 1.540, 1.581, 1.905, 1.935, 2.006, 1.864, 1.824]
g_cmd = [13.23, 12.95, 14.12, 13.59, 14.03, 14.75, 14.93, 14.88, 14.43, 13.54,
         13.63, 15.19, 18.29, 14.01, 14.57, 14.53, 14.93, 15.41, 15.73, 14.72,
         15.15, 13.77, 16.01, 17.78, 15.73, 14.43, 15.52, 14.14, 15.46, 16.10,
         14.86, 14.21, 13.19, 14.35, 15.97, 16.26, 16.60, 15.84, 17.48, 13.99,
         14.93, 15.44, 16.75, 13.84, 16.89, 15.66, 15.00, 16.31, 16.10, 17.11,
         16.57, 17.56, 18.09, 13.77, 14.43, 14.86, 16.82, 17.04, 17.58, 16.97,
         17.15, 17.40, 17.69, 17.97, 13.92, 14.93, 14.39, 15.44, 13.70, 15.88,
         16.39, 16.60, 16.89, 17.26, 17.04, 15.95, 14.28, 15.59, 16.57, 17.55,
         16.79, 16.35, 13.99, 17.87, 18.29, 16.13, 15.77, 16.31, 14.68, 17.55,
         18.38, 16.50, 16.97, 18.40, 19.18, 17.19, 15.19, 17.98, 18.20, 17.58,
         18.58, 17.71, 15.62, 13.85, 18.56, 18.16, 17.48, 16.71, 17.33, 16.17,
         15.48, 18.35, 18.00, 17.65, 13.30, 16.06, 16.50, 16.71, 17.62, 17.19,
         13.74, 15.88, 17.19, 18.09, 13.95, 16.79, 17.77, 13.56, 13.23, 17.33,
         18.27, 14.43, 17.87, 15.77, 18.62, 13.16, 17.62, 15.95, 17.11, 17.55,
         18.20, 12.18, 13.12, 17.73, 16.10, 17.29, 17.87, 16.88, 15.99, 18.48,
         18.24, 12.54, 17.08, 17.22, 13.94, 12.99, 12.90, 16.06, 11.29, 13.37,
         18.11, 18.24, 15.36, 17.95, 18.72, 17.04, 17.42, 13.30, 17.66, 15.17,
         17.95, 15.43, 16.23, 15.37, 15.15, 15.37, 15.59, 15.77, 15.73, 15.95,
         16.06, 16.28, 16.35, 16.60, 16.82, 16.68, 16.39, 16.17, 16.46, 16.24,
         15.00, 15.30, 14.72, 14.64, 15.15, 17.11, 17.22, 17.22, 17.11, 16.82]
p_cmd = [1.00, 1.00, 0.90, 1.00, 1.00, 1.00, 1.00, 1.00, 1.00, 1.00,
         1.00, 0.93, 0.82, 0.82, 1.00, 0.80, 1.00, 0.93, 1.00, 0.75,
         1.00, 1.00, 0.53, 0.62, 1.00, 1.00, 1.00, 1.00, 0.57, 1.00,
         1.00, 1.00, 1.00, 1.00, 1.00, 0.62, 0.72, 0.75, 0.55, 1.00,
         1.00, 1.00, 1.00, 1.00, 0.88, 0.85, 1.00, 0.85, 1.00, 0.88,
         0.53, 0.80, 0.80, 1.00, 1.00, 1.00, 0.63, 0.65, 0.80, 0.52,
         0.62, 0.53, 0.63, 0.68, 1.00, 1.00, 1.00, 1.00, 1.00, 1.00,
         0.53, 0.82, 0.52, 0.62, 0.88, 0.72, 1.00, 1.00, 0.52, 0.80,
         0.52, 0.80, 1.00, 0.58, 0.72, 0.63, 0.88, 0.72, 1.00, 0.90,
         0.75, 0.90, 0.88, 0.53, 0.52, 0.75, 1.00, 0.70, 0.52, 0.60,
         0.52, 0.60, 1.00, 1.00, 0.53, 0.60, 0.52, 0.88, 0.88, 1.00,
         1.00, 0.52, 0.60, 0.88, 1.00, 0.93, 0.90, 0.82, 0.52, 0.88,
         1.00, 1.00, 1.00, 0.62, 1.00, 0.55, 0.72, 1.00, 1.00, 1.00,
         0.80, 0.85, 0.62, 0.80, 0.68, 1.00, 0.65, 1.00, 0.55, 0.88,
         0.78, 1.00, 1.00, 0.80, 0.93, 0.62, 0.53, 0.78, 0.62, 0.53,
         0.80, 1.00, 0.72, 0.57, 1.00, 1.00, 1.00, 0.80, 1.00, 1.00,
         0.53, 0.70, 0.93, 0.70, 0.55, 1.00, 0.82, 1.00, 0.90, 0.82,
         0.70, 1.00, 0.63, 1.00, 1.00, 1.00, 1.00, 1.00, 1.00, 1.00,
         1.00, 1.00, 1.00, 1.00, 1.00, 1.00, 1.00, 1.00, 1.00, 1.00,
         1.00, 1.00, 1.00, 1.00, 1.00, 1.00, 0.90, 1.00, 0.90, 1.00]
bp_rp_core = [1.277, 1.318, 1.338, 1.379, 1.399, 1.429, 1.460, 1.490, 1.520, 1.540,
              1.581, 1.621, 1.642, 1.662, 1.692, 1.723, 1.743, 1.783, 1.814, 1.834,
              1.864, 1.885, 1.905, 1.945, 1.966, 2.006, 2.026, 2.047, 1.379, 1.419,
              1.460, 1.500, 1.540, 1.581, 1.540, 1.561, 1.601, 1.621, 1.460, 1.500,
              1.540, 1.399, 1.460, 1.500, 1.540, 1.581, 1.702, 1.662, 1.763, 1.783,
              1.824, 1.864, 1.905, 1.945, 1.986, 2.047, 2.067, 2.107, 1.642, 1.702,
              1.743, 1.581, 1.540, 1.338, 1.358, 1.277, 1.237, 1.217, 1.156, 1.136,
              1.115, 1.095, 1.298, 1.338, 1.389, 1.439, 1.500, 1.520, 1.642, 1.662,
              1.723, 1.783, 1.824, 1.864, 1.905, 1.945, 1.986, 2.026, 2.067]
g_cmd_core = [14.57, 14.72, 15.01, 15.15, 15.44, 15.59, 15.73, 15.37, 15.52, 15.73,
              15.59, 15.66, 15.44, 15.88, 16.10, 15.95, 15.88, 16.10, 16.17, 16.39,
              16.31, 16.46, 16.60, 16.75, 16.89, 17.04, 17.11, 17.26, 14.57, 14.72,
              15.15, 15.30, 14.86, 14.72, 15.44, 16.02, 16.10, 16.24, 15.95, 16.17,
              16.31, 15.88, 16.53, 16.60, 16.60, 16.75, 16.75, 16.53, 16.89, 17.11,
              17.26, 17.33, 17.48, 17.40, 17.48, 17.55, 17.40, 17.33, 17.48, 17.33,
              17.19, 17.33, 17.26, 16.02, 16.31, 15.88, 15.44, 15.01, 14.72, 14.43,
              14.57, 14.86, 14.06, 13.99, 13.77, 14.14, 14.21, 13.85, 14.43, 14.79,
              15.01, 15.44, 15.66, 15.88, 16.02, 16.24, 16.46, 16.68, 16.89]
p_cmd_core = [1.00, 1.00, 1.00, 0.98, 1.00, 1.00, 0.97, 1.00, 1.00, 1.00,
              1.00, 0.98, 1.00, 1.00, 0.96, 1.00, 1.00, 0.97, 1.00, 0.95,
              1.00, 0.96, 0.93, 0.95, 0.92, 0.90, 0.88, 0.88, 1.00, 1.00,
              1.00, 1.00, 1.00, 1.00, 1.00, 0.97, 1.00, 0.95, 1.00, 0.97,
              0.93, 1.00, 0.96, 0.93, 0.95, 0.90, 0.93, 0.96, 0.90, 0.88,
              0.88, 0.86, 0.88, 0.90, 0.85, 0.88, 0.90, 0.88, 0.85, 0.88,
              0.90, 0.85, 0.88, 1.00, 0.97, 1.00, 1.00, 1.00, 1.00, 1.00,
              1.00, 1.00, 1.00, 1.00, 1.00, 1.00, 1.00, 1.00, 1.00, 1.00,
              1.00, 1.00, 1.00, 1.00, 0.98, 0.96, 0.95, 0.93, 0.92]

plx_ref = 0.5

fig = plt.figure(figsize=(5.665, 4.825), dpi=200)
ax1 = fig.add_axes([0.0830, 0.5720, 0.3698, 0.4124])
ax2 = fig.add_axes([0.5552, 0.5720, 0.3716, 0.4124])
ax3 = fig.add_axes([0.0830, 0.0694, 0.3698, 0.4114])
ax4 = fig.add_axes([0.5552, 0.0694, 0.3716, 0.4114])
cax = fig.add_axes([0.9391, 0.0860, 0.0194, 0.8974])

kw = dict(cmap='plasma', vmin=0.5, vmax=1.0, s=25, alpha=0.8,
          edgecolors='0.3', linewidths=0.25)

# core members first so the scattered stars sit on top
sc = ax1.scatter(glon_core + glon, glat_core + glat, c=p_sky_core + p_sky, **kw)
ax2.scatter(pmra_core + pmra, pmde_core + pmde, c=p_pm_core + p_pm, **kw)
ax3.scatter(plx_core + plx, g_plx_core + g_plx, c=p_plx_core + p_plx, **kw)
ax4.scatter(bp_rp_core + bp_rp, g_cmd_core + g_cmd, c=p_cmd_core + p_cmd, **kw)
ax3.axvline(plx_ref, color='k', lw=1.7, ls=(0, (1, 2)))

ax1.set_xlim(354.355, 355.195)
ax1.set_ylim(-3.273, -2.431)
ax1.set_xlabel('GLON')
ax1.set_ylabel('GLAT')

ax2.set_xlim(1.386, 2.374)
ax2.set_ylim(-1.771, -0.749)
ax2.set_xlabel('pmRA [mas/yr]')
ax2.set_ylabel('pmDE [mas/yr]')

ax3.set_xlim(0.153, 0.880)
ax3.set_ylim(19.46, 10.80)
ax3.set_xlabel('Plx [mas]')
ax3.set_ylabel('G')

ax4.set_xlim(0.848, 3.077)
ax4.set_ylim(19.46, 10.80)
ax4.set_xlabel('BP-RP')
ax4.set_ylabel('G')

for ax in [ax1, ax2, ax3, ax4]:
    ax.xaxis.set_minor_locator(AutoMinorLocator())
    ax.yaxis.set_minor_locator(AutoMinorLocator())
    ax.tick_params(which='both', direction='in', top=True, right=True, width=0.5)
    ax.tick_params(which='major', length=2.6)
    ax.tick_params(which='minor', length=1.4)

cb = fig.colorbar(sc, cax=cax)
cb.set_ticks([0.6, 0.7, 0.8, 0.9, 1.0])
cb.ax.yaxis.set_minor_locator(AutoMinorLocator())
cb.ax.tick_params(which='both', direction='in', width=0.5)
cb.ax.tick_params(which='major', length=2.6)
cb.ax.tick_params(which='minor', length=1.4)
cb.outline.set_linewidth(0.5)

fig.savefig('out.png', dpi=200)
